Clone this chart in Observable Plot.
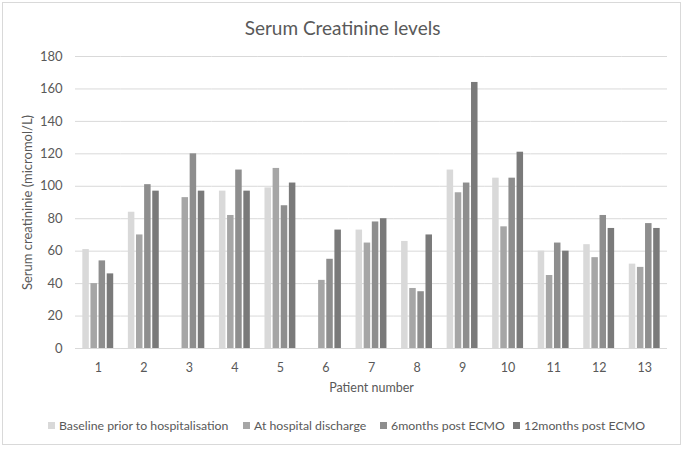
<!DOCTYPE html>
<html>
<head>
<meta charset="utf-8">
<script src="https://cdn.jsdelivr.net/npm/d3@7"></script>
<script src="https://cdn.jsdelivr.net/npm/@observablehq/plot@0.6"></script>
<style>
  html, body { margin: 0; padding: 0; background: #fff; }
  #wrap { position: relative; width: 685px; height: 452px; font-family: Lato, "Open Sans", sans-serif; color: #595959; overflow: hidden; }
  #border { position: absolute; left: 2px; top: 2px; width: 679px; height: 443px; border: 1px solid #d9d9d9; box-sizing: border-box; }
  #title { position: absolute; left: 0; top: 16px; width: 685px; text-align: center; font-size: 19px; line-height: 24px; }
  #chart { position: absolute; left: 0; top: 40px; }
  #legend { position: absolute; left: 0; top: 418px; width: 685px; font-size: 12.3px; line-height: 16px; white-space: nowrap; }
  .item { position: absolute; top: 0; }
  .sw { display: inline-block; width: 7px; height: 7px; margin-right: 4px; vertical-align: 1px; }
</style>
</head>
<body>
<div id="wrap">
  <div id="border"></div>
  <div id="title">Serum Creatinine levels</div>
  <div id="chart"></div>
  <div id="legend"></div>
</div>
<script>
const patients = ["1","2","3","4","5","6","7","8","9","10","11","12","13"];
const seriesNames = ["Baseline prior to hospitalisation", "At hospital discharge", "6months post ECMO", "12months post ECMO"];
const baseline  = [61, 84, null, 97, 99, null, 73, 66, 110, 105, 60, 64, 52];
const discharge = [40, 70, 93, 82, 111, 42, 65, 37, 96, 75, 45, 56, 50];
const sixMonths = [54, 101, 120, 110, 88, 55, 78, 35, 102, 105, 65, 82, 77];
const twelveMonths = [46, 97, 97, 97, 102, 73, 80, 70, 164, 121, 60, 74, 74];
const yTicks = [0, 20, 40, 60, 80, 100, 120, 140, 160, 180];
const colors = ["#d9d9d9", "#a6a6a6", "#8e8e8e", "#7a7a7a"];

const seriesValues = [baseline, discharge, sixMonths, twelveMonths];
const data = [];
patients.forEach((p, i) => {
  seriesNames.forEach((s, j) => {
    const v = seriesValues[j][i];
    if (v != null) data.push({patient: p, series: s, value: v});
  });
});

const chart = Plot.plot({
  width: 685,
  height: 360,
  marginLeft: 75,
  marginRight: 18,
  marginTop: 16,
  marginBottom: 52,
  style: {fontFamily: "Lato, 'Open Sans', sans-serif", fontSize: "12.5px", color: "#595959", background: "transparent"},
  fx: {domain: patients, padding: 0, round: false},
  x: {domain: seriesNames, paddingInner: 0.2, paddingOuter: 0.9, axis: null, round: false},
  y: {domain: [0, 180]},
  color: {domain: seriesNames, range: colors},
  marks: [
    Plot.gridY(yTicks, {stroke: "#d9d9d9", strokeOpacity: 1, strokeWidth: 1}),
    Plot.barY(data, {fx: "patient", x: "series", y: "value", fill: "series"}),
    Plot.ruleY([0], {stroke: "#d9d9d9", strokeWidth: 1}),
    Plot.axisY({ticks: yTicks, tickSize: 0, tickPadding: 13, label: "Serum creatininie (micromol/L)", labelAnchor: "center", labelOffset: 53, labelArrow: "none", fontSize: 13}),
    Plot.axisFx({anchor: "bottom", tickSize: 0, tickPadding: 15, label: "Patient number", labelAnchor: "center", labelOffset: 43, fontSize: 12.5})
  ]
});
document.getElementById("chart").appendChild(chart);

const legend = document.getElementById("legend");
const lefts = [48, 243, 380, 513];
seriesNames.forEach((s, j) => {
  const item = document.createElement("div");
  item.className = "item";
  item.style.left = lefts[j] + "px";
  item.innerHTML = `<span class="sw" style="background:${colors[j]}"></span>${s}`;
  legend.appendChild(item);
});
</script>
</body>
</html>
